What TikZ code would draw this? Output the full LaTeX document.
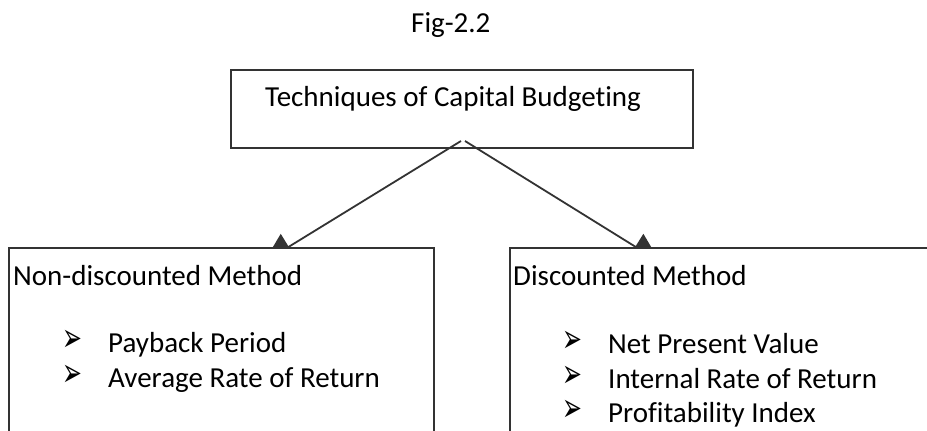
\documentclass[tikz,border=0pt]{standalone}
\usepackage{fontspec}
\setmainfont{Carlito}[Ligatures=NoCommon]
\newfontfamily\dingfont{DejaVu Sans}
\usetikzlibrary{arrows.meta}
\definecolor{linegray}{HTML}{333333}
\newcommand{\arrowbullet}{\scalebox{0.95}[1.6]{\dingfont\fontsize{25}{30}\selectfont ➢}}
\begin{document}
\begin{tikzpicture}[x=1pt,y=-1pt,
  box/.style={draw=linegray, line width=1.8pt, fill=white, inner sep=0pt},
  txt/.style={anchor=base west, inner sep=0pt, font=\fontsize{29}{35}\selectfont},
  bul/.style={anchor=west, inner sep=0pt},
  conn/.style={draw=linegray, line width=1.8pt, -{Triangle[length=29pt,width=30pt]}}]
\useasboundingbox (0,0) rectangle (927,431);
\clip (0,0) rectangle (927,431);
\fill[white] (0,0) rectangle (927,431);
% title
\node[txt] (fig) at (411,32) {Fig-2.2};
% top box
\node[box, fill=none, minimum width=462pt, minimum height=78pt] (top) at (462,109) {};
\node[txt] (toptxt) at (265,106) {Techniques of Capital Budgeting};
% connectors
\coordinate (s1) at (461,141);
\coordinate (e1) at (264,262);
\coordinate (s2) at (465,141);
\coordinate (e2) at (660,262);
\draw[conn] (s1) -- (e1);
\draw[conn] (s2) -- (e2);
% bottom boxes
\node[box, minimum width=425pt, minimum height=197pt] (left) at (221.5,346.5) {};
\node[box, minimum width=435pt, minimum height=197pt] (right) at (727.5,346.5) {};
% left content
\node[txt] (lh) at (13,285) {Non-discounted Method};
\node[bul] (lb1) at (62,341) {\arrowbullet};
\node[txt] (l1) at (108,352) {Payback Period};
\node[bul] (lb2) at (62,376) {\arrowbullet};
\node[txt] (l2) at (108,387) {Average Rate of Return};
% right content
\node[txt] (rh) at (513,285) {Discounted Method};
\node[bul] (rb1) at (562,342) {\arrowbullet};
\node[txt] (r1) at (608,353) {Net Present Value};
\node[bul] (rb2) at (562,377) {\arrowbullet};
\node[txt] (r2) at (608,388) {Internal Rate of Return};
\node[bul] (rb3) at (562,411) {\arrowbullet};
\node[txt] (r3) at (608,422) {Profitability Index};
\end{tikzpicture}
\end{document}
